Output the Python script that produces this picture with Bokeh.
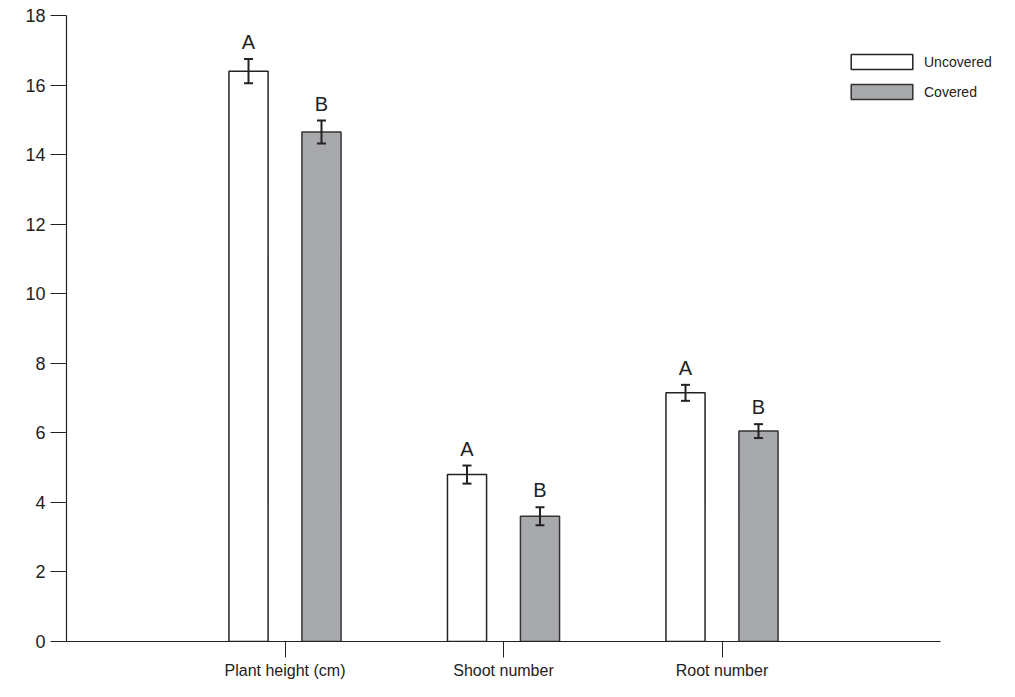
from bokeh.plotting import figure
from bokeh.models import (ColumnDataSource, Range1d, FixedTicker, Whisker, TeeHead,
                          Legend, LegendItem)
from bokeh.core.properties import value
from bokeh.embed import file_html
from bokeh.resources import INLINE

categories = ["Plant height (cm)", "Shoot number", "Root number"]
uncovered = [16.4, 4.8, 7.15]
uncovered_err = [0.35, 0.26, 0.23]
covered = [14.65, 3.6, 6.05]
covered_err = [0.33, 0.26, 0.2]
uncovered_letters = ["A", "A", "A"]
covered_letters = ["B", "B", "B"]
y_ticks = [0, 2, 4, 6, 8, 10, 12, 14, 16, 18]

FONT = "Liberation Sans"
pos = [i + 1 for i in range(len(categories))]
off = 0.167
bw = 0.179

src_u = ColumnDataSource(dict(
    x=[p - off for p in pos], top=uncovered,
    lower=[v - e for v, e in zip(uncovered, uncovered_err)],
    upper=[v + e for v, e in zip(uncovered, uncovered_err)],
    lab=uncovered_letters))
src_c = ColumnDataSource(dict(
    x=[p + off for p in pos], top=covered,
    lower=[v - e for v, e in zip(covered, covered_err)],
    upper=[v + e for v, e in zip(covered, covered_err)],
    lab=covered_letters))

p = figure(width=999, height=681, output_backend="svg", toolbar_location=None,
           x_range=Range1d(0, 4.27), y_range=Range1d(0, 18),
           min_border_left=66, min_border_top=15, min_border_right=0,
           min_border_bottom=40)
p.outline_line_color = None
p.xgrid.visible = False
p.ygrid.visible = False

r_u = p.vbar(x="x", top="top", width=bw, bottom=0, source=src_u,
             fill_color="white", line_color="#222222", line_width=1.5)
r_c = p.vbar(x="x", top="top", width=bw, bottom=0, source=src_c,
             fill_color="#a8a9ad", line_color="#333333", line_width=1.5)

for s in (src_u, src_c):
    w = Whisker(base="x", lower="lower", upper="upper", source=s,
                line_color="#222222", line_width=2, level="overlay",
                upper_head=TeeHead(size=9, line_color="#222222", line_width=2),
                lower_head=TeeHead(size=9, line_color="#222222", line_width=2))
    p.add_layout(w)
    p.text(x="x", y="upper", text="lab", source=s, text_align="center",
           text_baseline="bottom", y_offset=-6, text_font=value(FONT),
           text_font_size="20px", text_color="#222222")

# axes
p.yaxis.ticker = FixedTicker(ticks=y_ticks)
p.yaxis.minor_tick_line_color = None
p.yaxis.major_tick_out = 16
p.yaxis.major_tick_in = 0
p.yaxis.major_label_standoff = 5
p.yaxis.major_label_text_font = FONT
p.yaxis.major_label_text_font_size = "18px"
p.yaxis.major_label_text_color = "#222222"
p.yaxis.axis_line_color = "#222222"
p.yaxis.major_tick_line_color = "#222222"
p.yaxis.axis_line_width = 1.2

p.xaxis.ticker = FixedTicker(ticks=pos)
p.xaxis.bounds = (0, 4)
p.xaxis.major_label_overrides = {pp: c for pp, c in zip(pos, categories)}
p.xaxis.minor_tick_line_color = None
p.xaxis.major_tick_out = 16
p.xaxis.major_tick_in = 0
p.xaxis.major_label_standoff = 4
p.xaxis.major_label_text_font = FONT
p.xaxis.major_label_text_font_size = "16px"
p.xaxis.major_label_text_color = "#222222"
p.xaxis.axis_line_color = "#222222"
p.xaxis.major_tick_line_color = "#222222"
p.xaxis.axis_line_width = 1.2

legend = Legend(items=[LegendItem(label="Uncovered", renderers=[r_u]),
                       LegendItem(label="Covered", renderers=[r_c])],
                location=(777, 540), glyph_width=77, glyph_height=19,
                label_text_font=FONT, label_text_font_size="14px",
                label_text_color="#222222", border_line_color=None,
                background_fill_alpha=0, spacing=11, padding=0,
                margin=0, label_standoff=4)
p.add_layout(legend)

open("out.html", "w").write(file_html(p, INLINE))
